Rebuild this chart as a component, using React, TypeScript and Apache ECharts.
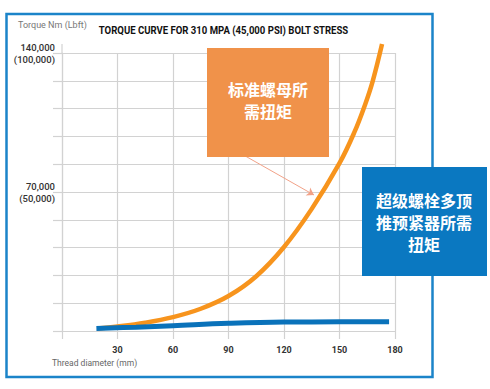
import React, { useEffect, useRef } from 'react';
import * as echarts from 'echarts';

const TITLE = 'TORQUE CURVE FOR 310 MPA (45,000 PSI) BOLT STRESS';
const Y_NAME = 'Torque Nm (Lbft)';
const X_NAME = 'Thread diameter (mm)';

const xTickLabels = ['30', '60', '90', '120', '150', '180'];
const yTickValues = [70000, 140000];
const yTickLabels = ['70,000\n(50,000)', '140,000\n(100,000)'];

// thread diameter (mm), torque (Nm)
const standardNutTorque: [number, number][] = [
  [19, 1300], [30, 2300], [45, 4200], [60, 7000], [75, 11200], [90, 17600],
  [105, 27600], [120, 42300], [135, 61500], [150, 84500], [158, 100000],
  [164, 114500], [168, 126000], [173, 144500],
];
const superboltTorque: [number, number][] = [
  [18.6, 1200], [40, 1950], [60, 2700], [90, 3850], [120, 4500], [150, 4600], [176.8, 4600],
];

const standardNote = '标准螺母所\n需扭矩';
const superboltNote = '超级螺栓多顶\n推预紧器所需\n扭矩';
const standardArrow: [number, number][] = [[99.1, 88100], [136.2, 68500]];
const superboltArrow: [number, number][] = [[188.1, 27200], [157.4, 7050]];

export default function App() {
  const ref = useRef<HTMLDivElement>(null);
  useEffect(() => {
    if (!ref.current) return;
    const chart = echarts.init(ref.current, undefined, { renderer: 'svg' });
    const gridColor = '#d2d2d2';
    chart.setOption({
      animation: false,
      backgroundColor: '#ffffff',
      grid: { left: 62, right: 95, top: 53, bottom: 58, outerBoundsMode: 'none' },
      xAxis: {
        type: 'value',
        min: 0,
        max: 180,
        interval: 30,
        axisLine: { show: true, lineStyle: { color: gridColor, width: 1.2 } },
        axisTick: { show: true, length: 8, lineStyle: { color: gridColor, width: 1.2 } },
        splitLine: { show: true, lineStyle: { color: gridColor, width: 1.2 } },
        axisLabel: {
          margin: 14,
          fontFamily: 'Roboto',
          fontWeight: 'bold',
          fontSize: 9,
          color: '#333',
          formatter: (v: number) => {
            const s = String(v);
            return xTickLabels.includes(s) ? s : '';
          },
        },
      },
      yAxis: {
        type: 'value',
        min: 0,
        max: 140000,
        interval: 14000,
        axisLine: { show: true, lineStyle: { color: gridColor, width: 1.2 } },
        axisTick: { show: true, length: 9, lineStyle: { color: gridColor, width: 1.2 } },
        splitLine: { show: true, lineStyle: { color: gridColor, width: 1.2 } },
        axisLabel: {
          margin: 7,
          fontFamily: 'Roboto',
          fontWeight: 500,
          fontSize: 9.5,
          lineHeight: 12,
          color: '#333',
          formatter: (v: number) => {
            const i = yTickValues.indexOf(v);
            return i >= 0 ? yTickLabels[i] : '';
          },
        },
      },
      series: [
        {
          type: 'line',
          data: standardNutTorque,
          smooth: 0.4,
          showSymbol: false,
          clip: false,
          silent: true,
          lineStyle: { color: '#f7941d', width: 4.5 },
          markLine: {
            silent: true,
            symbol: ['none', 'arrow'],
            symbolSize: 7,
            label: { show: false },
            lineStyle: { color: '#f2a288', width: 1, type: 'solid' },
            data: [[{ coord: standardArrow[0] }, { coord: standardArrow[1] }]],
          },
        },
        {
          type: 'line',
          data: superboltTorque,
          smooth: 0.4,
          showSymbol: false,
          clip: false,
          silent: true,
          lineStyle: { color: '#0a72ba', width: 5 },
          markLine: {
            silent: true,
            symbol: ['none', 'arrow'],
            symbolSize: 7,
            label: { show: false },
            lineStyle: { color: '#3d9ad6', width: 1, type: 'solid' },
            data: [[{ coord: superboltArrow[0] }, { coord: superboltArrow[1] }]],
          },
        },
      ],
      graphic: [
        {
          type: 'rect',
          z: 50,
          shape: { x: 6.5, y: 14, width: 426, height: 363 },
          style: { fill: 'none', stroke: '#1b84c9', lineWidth: 2.5 },
        },
        {
          type: 'line',
          z: 5,
          shape: { x1: 62, y1: 44, x2: 62, y2: 53 },
          style: { stroke: gridColor, lineWidth: 1.2 },
        },
        {
          type: 'text',
          z: 50,
          x: 223.5,
          y: 30.5,
          scaleX: 0.87,
          style: {
            text: TITLE,
            fontFamily: 'Roboto',
            fontWeight: 'bold',
            fontSize: 11,
            fill: '#111',
            textAlign: 'center',
            textVerticalAlign: 'middle',
          },
        },
        {
          type: 'text',
          z: 50,
          x: 18,
          y: 25,
          style: {
            text: Y_NAME,
            fontFamily: 'Roboto',
            fontSize: 9,
            fill: '#777',
            textVerticalAlign: 'middle',
          },
        },
        {
          type: 'text',
          z: 50,
          x: 52,
          y: 363,
          style: {
            text: X_NAME,
            fontFamily: 'Roboto',
            fontSize: 8.5,
            fill: '#666',
            textVerticalAlign: 'middle',
          },
        },
        {
          type: 'rect',
          z: 60,
          shape: { x: 207, y: 48, width: 122, height: 109 },
          style: { fill: '#f0924a' },
        },
        {
          type: 'text',
          z: 61,
          x: 268,
          y: 100,
          style: {
            text: standardNote,
            fontFamily: 'Noto Sans CJK SC',
            fontWeight: 'bold',
            fontSize: 16,
            lineHeight: 22,
            fill: '#ffffff',
            textAlign: 'center',
            textVerticalAlign: 'middle',
          },
        },
        {
          type: 'rect',
          z: 60,
          shape: { x: 362, y: 167, width: 125, height: 109 },
          style: { fill: '#0a78c1' },
        },
        {
          type: 'text',
          z: 61,
          x: 424,
          y: 222,
          style: {
            text: superboltNote,
            fontFamily: 'Noto Sans CJK SC',
            fontWeight: 'bold',
            fontSize: 16,
            lineHeight: 22,
            fill: '#ffffff',
            textAlign: 'center',
            textVerticalAlign: 'middle',
          },
        },
      ],
    });
    return () => chart.dispose();
  }, []);
  return (
    <div
      ref={ref}
      style={{ position: 'fixed', left: 0, top: 0, width: 490, height: 389 }}
    />
  );
}
